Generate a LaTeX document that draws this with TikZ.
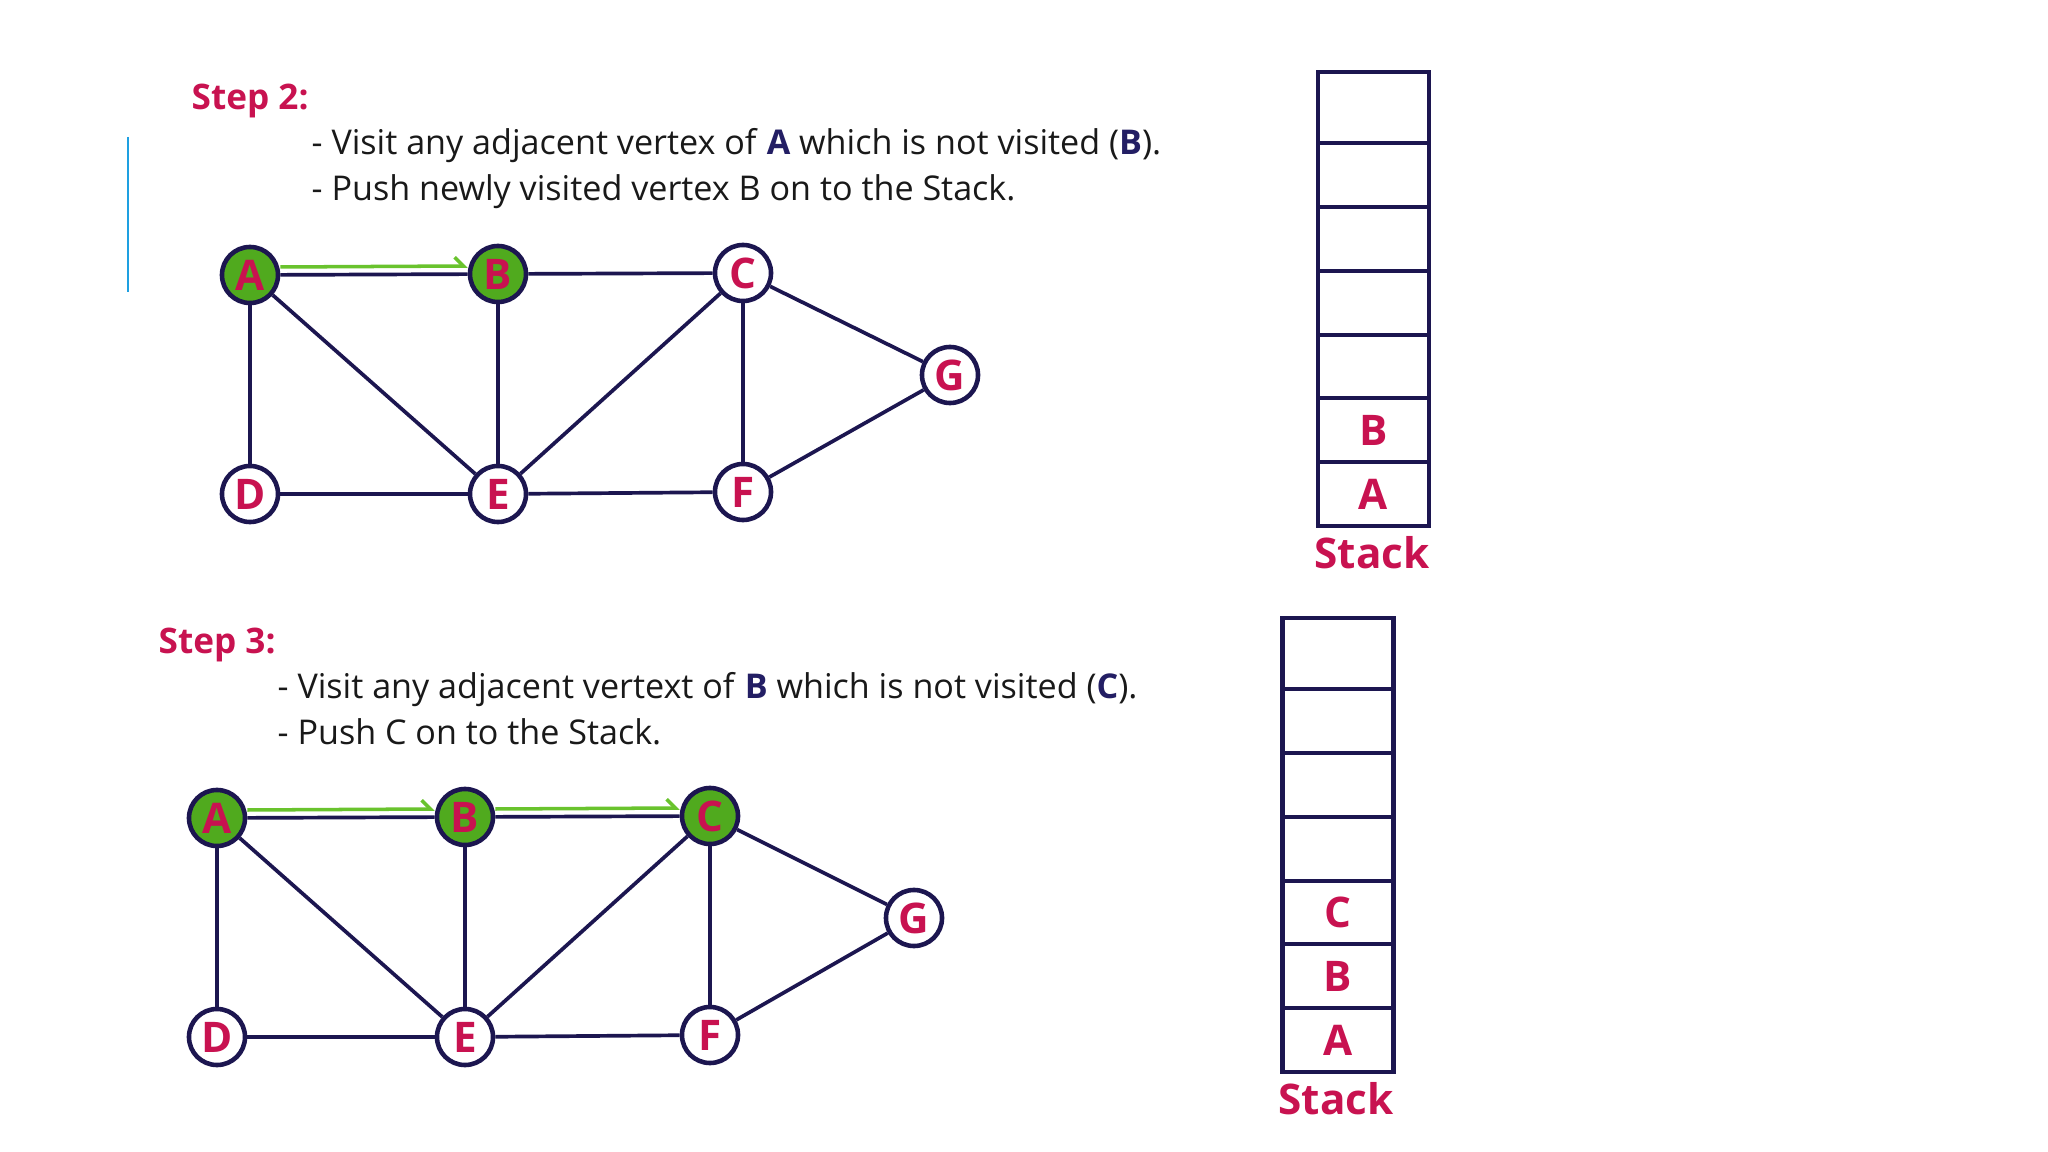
\documentclass[tikz,border=0pt]{standalone}
\usepackage{fontspec}
\setmainfont{Open Sans}
\usetikzlibrary{arrows.meta}
\definecolor{crim}{RGB}{200,18,80}
\definecolor{navy}{RGB}{28,22,80}
\definecolor{vgreen}{RGB}{80,170,30}
\definecolor{agreen}{RGB}{105,195,45}
\definecolor{txt}{RGB}{25,25,25}
\definecolor{bluebar}{RGB}{30,160,225}
\definecolor{boldnavy}{RGB}{35,30,100}
\tikzset{
  vertex/.style={circle, draw=navy, line width=1.3pt, fill=white, minimum size=0.56cm,
    inner sep=0pt, text=crim, font=\fontsize{12pt}{12pt}\selectfont\bfseries},
  visited/.style={vertex, fill=vgreen},
  edge/.style={draw=navy, line width=1.05pt},
  trail/.style={draw=agreen, line width=1pt, -{Straight Barb[harpoon, length=2.5pt, width=5pt]}},
  cell/.style={rectangle, draw=navy, line width=1.3pt, minimum width=1.11cm, inner sep=0pt,
    text=crim, font=\fontsize{12pt}{12pt}\selectfont\bfseries},
  steptitle/.style={anchor=base west, inner sep=0pt, text=crim, font=\fontsize{10pt}{10pt}\selectfont\bfseries},
  bodytext/.style={anchor=base west, inner sep=0pt, text=txt, font=\fontsize{9.7pt}{11pt}\selectfont},
  stacklabel/.style={anchor=base, inner sep=0pt, text=crim, font=\fontsize{12pt}{12pt}\selectfont\bfseries},
}
\newcommand{\hl}[1]{\textbf{\textcolor{boldnavy}{#1}}}
\begin{document}
\begin{tikzpicture}[x=0.01cm, y=-0.01cm]
\useasboundingbox[fill=white] (0,0) rectangle (2048,1152);

% blue bar
\draw[bluebar, line width=0.8pt] (128,137) -- (128,292);

% ---------- Step 2 ----------
\node[steptitle] (t2) at (191,110) {Step 2:};
\node[bodytext] (l21) at (311,155) {- Visit any adjacent vertex of \hl{A} which is not visited (\hl{B}).};
\node[bodytext] (l22) at (311,201) {- Push newly visited vertex B on to the Stack.};

\node[visited] (A) at (250,275) {A};
\node[visited] (B) at (498,274) {B};
\node[vertex] (C) at (743,273) {C};
\node[vertex] (G) at (950,375) {G};
\node[vertex] (D) at (250,494) {D};
\node[vertex] (E) at (498,494) {E};
\node[vertex] (F) at (743,492) {F};
\draw[edge] (A) -- (B);
\draw[edge] (B) -- (C);
\draw[edge] (A) -- (D);
\draw[edge] (A) -- (E);
\draw[edge] (B) -- (E);
\draw[edge] (C) -- (E);
\draw[edge] (C) -- (F);
\draw[edge] (C) -- (G);
\draw[edge] (G) -- (F);
\draw[edge] (D) -- (E);
\draw[edge] (E) -- (F);
\draw[trail] ([yshift=0.08cm]A.east) -- ([yshift=0.08cm]B.west);

% stack 1
\node[cell, minimum height=0.71cm] (s11) at (1373.5,107.5) {};
\node[cell, minimum height=0.64cm] (s12) at (1373.5,175) {};
\node[cell, minimum height=0.64cm] (s13) at (1373.5,239) {};
\node[cell, minimum height=0.64cm] (s14) at (1373.5,303) {};
\node[cell, minimum height=0.63cm] (s15) at (1373.5,366.5) {};
\node[cell, minimum height=0.64cm] (s16) at (1373.5,430) {B};
\node[cell, minimum height=0.64cm] (s17) at (1373.5,494) {A};
\node[stacklabel] (st1) at (1372,568) {Stack};

% ---------- Step 3 ----------
\node[steptitle] (t3) at (158,653) {Step 3:};
\node[bodytext] (l31) at (277,698) {- Visit any adjacent vertext of \hl{B} which is not visited (\hl{C}).};
\node[bodytext] (l32) at (277,744) {- Push C on to the Stack.};

\begin{scope}[shift={(-33,543)}]
\node[visited] (A2) at (250,275) {A};
\node[visited] (B2) at (498,274) {B};
\node[visited] (C2) at (743,273) {C};
\node[vertex] (G2) at (947,375) {G};
\node[vertex] (D2) at (250,494) {D};
\node[vertex] (E2) at (498,494) {E};
\node[vertex] (F2) at (743,492) {F};
\end{scope}
\draw[edge] (A2) -- (B2);
\draw[edge] (B2) -- (C2);
\draw[edge] (A2) -- (D2);
\draw[edge] (A2) -- (E2);
\draw[edge] (B2) -- (E2);
\draw[edge] (C2) -- (E2);
\draw[edge] (C2) -- (F2);
\draw[edge] (C2) -- (G2);
\draw[edge] (G2) -- (F2);
\draw[edge] (D2) -- (E2);
\draw[edge] (E2) -- (F2);
\draw[trail] ([yshift=0.08cm]A2.east) -- ([yshift=0.08cm]B2.west);
\draw[trail] ([yshift=0.08cm]B2.east) -- ([yshift=0.08cm]C2.west);

% stack 2
\node[cell, minimum height=0.71cm] (s21) at (1338,653.5) {};
\node[cell, minimum height=0.64cm] (s22) at (1338,721) {};
\node[cell, minimum height=0.64cm] (s23) at (1338,785) {};
\node[cell, minimum height=0.64cm] (s24) at (1338,849) {};
\node[cell, minimum height=0.63cm] (s25) at (1338,912.5) {C};
\node[cell, minimum height=0.64cm] (s26) at (1338,976) {B};
\node[cell, minimum height=0.64cm] (s27) at (1338,1040) {A};
\node[stacklabel] (st2) at (1336,1114) {Stack};
\end{tikzpicture}
\end{document}
